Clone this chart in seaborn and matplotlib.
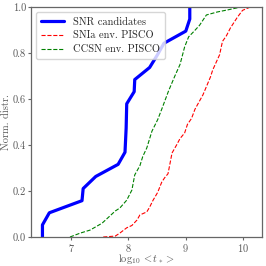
import numpy as np
import pandas as pd
import matplotlib
matplotlib.use("Agg")
import matplotlib.pyplot as plt
import seaborn as sns

# SNR candidates (sorted values vs cumulative fraction)
snr_x = [6.50, 6.50, 6.62, 7.19, 7.21, 7.43, 7.82, 7.94, 7.95, 7.96,
         7.965, 7.97, 8.10, 8.11, 8.37, 8.50, 8.62, 9.00, 9.07, 9.07]
snr_y = list(np.arange(len(snr_x)) / (len(snr_x) - 1))

# SNIa environments PISCO
ia_x = [7.56, 7.77, 7.85, 7.97, 8.06, 8.15, 8.20, 8.32, 8.37, 8.43, 8.51,
        8.58, 8.63, 8.69, 8.72, 8.76, 8.84, 8.90, 8.98, 9.03, 9.10, 9.16,
        9.30, 9.43, 9.47, 9.59, 9.64, 9.71, 9.78, 9.90, 9.99, 10.13]
ia_y = [0.0, 0.004, 0.017, 0.040, 0.050, 0.074, 0.096, 0.109, 0.130, 0.160,
        0.194, 0.238, 0.257, 0.275, 0.313, 0.365, 0.400, 0.428, 0.452, 0.490,
        0.515, 0.555, 0.618, 0.695, 0.726, 0.792, 0.850, 0.875, 0.909, 0.955,
        0.985, 1.0]

# CCSN environments PISCO
cc_x = [6.98, 7.16, 7.33, 7.54, 7.77, 7.85, 7.97, 8.06, 8.11, 8.20, 8.25,
        8.32, 8.41, 8.51, 8.58, 8.70, 8.81, 8.90, 8.98, 9.05, 9.14, 9.24,
        9.36, 9.55, 9.75, 9.97]
cc_y = [0.0, 0.017, 0.030, 0.060, 0.113, 0.126, 0.160, 0.204, 0.270, 0.310,
        0.350, 0.387, 0.460, 0.510, 0.555, 0.635, 0.700, 0.750, 0.826, 0.870,
        0.893, 0.920, 0.965, 0.978, 0.988, 1.0]

labels = ["SNR candidates", "SNIa env. PISCO", "CCSN env. PISCO"]

sns.set_style("ticks")
plt.rcParams.update({
    "font.family": "serif",
    "font.serif": ["cmr10", "DejaVu Serif"],
    "mathtext.fontset": "cm",
    "axes.formatter.use_mathtext": True,
    "axes.edgecolor": "0.4",
    "xtick.color": "0.4",
    "ytick.color": "0.4",
    "xtick.labelcolor": "0.35",
    "ytick.labelcolor": "0.35",
    "font.size": 7.5,
})

fig = plt.figure(figsize=(2.66, 2.66), dpi=100)
ax = fig.add_axes([0.1165, 0.109, 0.8685, 0.865])

df_snr = pd.DataFrame({"x": snr_x, "y": snr_y})
df_ia = pd.DataFrame({"x": ia_x, "y": ia_y})
df_cc = pd.DataFrame({"x": cc_x, "y": cc_y})

sns.lineplot(data=df_snr, x="x", y="y", sort=False, estimator=None, ax=ax,
             color="#0000ff", lw=2.3, label=labels[0])
sns.lineplot(data=df_ia, x="x", y="y", sort=False, estimator=None, ax=ax,
             color="red", lw=0.8, linestyle="--", label=labels[1])
sns.lineplot(data=df_cc, x="x", y="y", sort=False, estimator=None, ax=ax,
             color="green", lw=0.8, linestyle="--", label=labels[2])

ax.set_xlim(6.3, 10.33)
ax.set_ylim(0, 1.0)
ax.set_xticks([7, 8, 9, 10])
ax.set_yticks([0.0, 0.2, 0.4, 0.6, 0.8, 1.0])
ax.set_yticklabels(["0.0", "0.2", "0.4", "0.6", "0.8", "1.0"])
ax.tick_params(labelsize=7.5, length=2, width=0.8, pad=1.5)
for s in ax.spines.values():
    s.set_linewidth(0.9)
ax.set_xlabel(r"$\log_{10} < t_* >$", fontsize=7.5, color="0.35", labelpad=-1)
ax.set_ylabel("Norm. distr.", fontsize=7.5, color="0.35", labelpad=1)
ax.legend(loc="upper left", fontsize=7.5, handlelength=2.2, borderpad=0.5,
          labelspacing=0.4)

fig.savefig("out.png", dpi=100)
